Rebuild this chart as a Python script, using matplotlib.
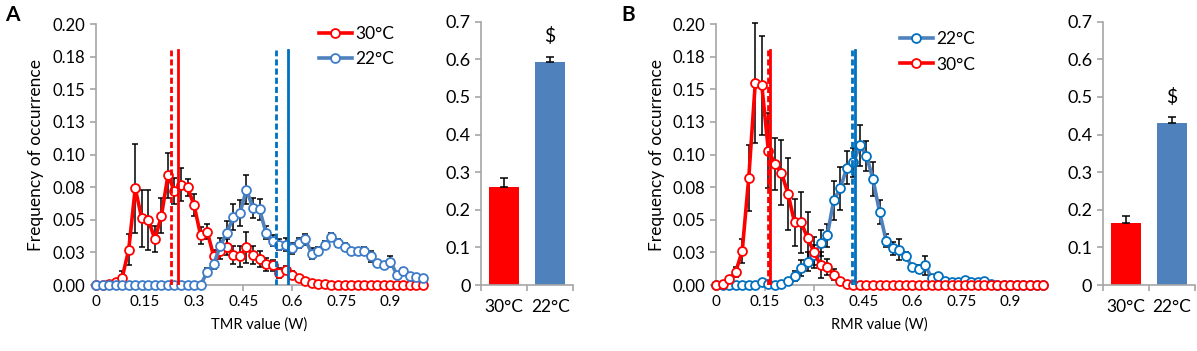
import matplotlib
matplotlib.use('Agg')
import matplotlib.pyplot as plt

plt.rcParams['font.family'] = ['Lato', 'DejaVu Sans']

# bins of the metabolic rate histograms (W)
mr_bins = [0.00, 0.02, 0.04, 0.06, 0.08, 0.10, 0.12, 0.14, 0.16, 0.18,
           0.20, 0.22, 0.24, 0.26, 0.28, 0.30, 0.32, 0.34, 0.36, 0.38,
           0.40, 0.42, 0.44, 0.46, 0.48, 0.50, 0.52, 0.54, 0.56, 0.58,
           0.60, 0.62, 0.64, 0.66, 0.68, 0.70, 0.72, 0.74, 0.76, 0.78,
           0.80, 0.82, 0.84, 0.86, 0.88, 0.90, 0.92, 0.94, 0.96, 0.98,
           1.00]

# panel A - TMR
tmr_30 = [0, 0, 0.001, 0.002, 0.0056, 0.027, 0.074, 0.051, 0.050, 0.035,
          0.053, 0.084, 0.072, 0.077, 0.075, 0.061, 0.038, 0.041, 0.022, 0.026,
          0.029, 0.023, 0.022, 0.029, 0.023, 0.020, 0.016, 0.015, 0.009, 0.0115,
          0.0077, 0.005, 0.003, 0.0015, 0.001, 0.0005, 0, 0, 0, 0,
          0, 0, 0, 0, 0, 0, 0, 0, 0, 0,
          0]
tmr_30_err = [0, 0, 0.001, 0.002, 0.005, 0.012, 0.034, 0.022, 0.023, 0.010,
              0.0135, 0.017, 0.010, 0.013, 0.0065, 0.0085, 0.0065, 0.006, 0.005, 0.006,
              0.006, 0.007, 0.008, 0.012, 0.007, 0.006, 0.005, 0.004, 0.004, 0.003,
              0.003, 0.002, 0.001, 0.001, 0, 0, 0, 0, 0, 0,
              0, 0, 0, 0, 0, 0, 0, 0, 0, 0,
              0]
tmr_22 = [0, 0, 0, 0, 0, 0, 0, 0, 0, 0,
          0, 0, 0, 0, 0, 0, 0, 0.010, 0.016, 0.030,
          0.040, 0.052, 0.055, 0.073, 0.059, 0.058, 0.040, 0.034, 0.031, 0.031,
          0.028, 0.032, 0.035, 0.024, 0.026, 0.031, 0.037, 0.032, 0.029, 0.026,
          0.026, 0.026, 0.022, 0.017, 0.015, 0.018, 0.008, 0.011, 0.007, 0.006,
          0.005]
tmr_22_err = [0, 0, 0, 0, 0, 0, 0, 0, 0, 0,
              0, 0, 0, 0, 0, 0, 0, 0.003, 0.004, 0.006,
              0.009, 0.010, 0.010, 0.011, 0.008, 0.008, 0.005, 0.004, 0.004, 0.005,
              0.004, 0.004, 0.004, 0.004, 0.003, 0.003, 0.003, 0.003, 0.003, 0.002,
              0.002, 0.003, 0.004, 0.002, 0.002, 0.004, 0.002, 0.002, 0.002, 0.001,
              0.001]
tmr_median_30, tmr_mean_30 = 0.23, 0.252
tmr_median_22, tmr_mean_22 = 0.551, 0.586
tmr_bar = [0.26, 0.592]
tmr_bar_err = [0.025, 0.015]

# panel B - RMR
rmr_22 = [0, 0, 0, 0, 0, 0, 0, 0.002, 0.001, 0,
          0.0005, 0.003, 0.007, 0.013, 0.018, 0.023, 0.032, 0.038, 0.065, 0.074,
          0.090, 0.094, 0.107, 0.099, 0.081, 0.056, 0.034, 0.028, 0.027, 0.022,
          0.014, 0.012, 0.015, 0.005, 0.007, 0.003, 0.0025, 0.0025, 0.004, 0.0025,
          0.0025, 0.003, 0.001, 0, 0, 0, 0, 0, 0, 0,
          0]
rmr_22_err = [0, 0, 0, 0, 0, 0, 0, 0.001, 0, 0,
              0, 0.002, 0.004, 0.006, 0.007, 0.008, 0.010, 0.009, 0.015, 0.0165,
              0.0125, 0.011, 0.0155, 0.0115, 0.013, 0.009, 0.005, 0.005, 0.008, 0.003,
              0.002, 0.003, 0.007, 0.002, 0.002, 0.001, 0.001, 0.001, 0.001, 0.001,
              0.001, 0.001, 0, 0, 0, 0, 0, 0, 0, 0,
              0]
rmr_30 = [0, 0.0005, 0.0045, 0.010, 0.026, 0.082, 0.155, 0.153, 0.103, 0.093,
          0.086, 0.070, 0.048, 0.048, 0.036, 0.025, 0.015, 0.014, 0.008, 0.003,
          0.001, 0, 0, 0, 0, 0, 0, 0, 0, 0,
          0, 0, 0, 0, 0, 0, 0, 0, 0, 0,
          0, 0, 0, 0, 0, 0, 0, 0, 0, 0,
          0]
rmr_30_err = [0, 0, 0.002, 0.004, 0.009, 0.025, 0.046, 0.038, 0.029, 0.020,
              0.025, 0.0275, 0.018, 0.0235, 0.020, 0.012, 0.010, 0.006, 0.004, 0.002,
              0.001, 0, 0, 0, 0, 0, 0, 0, 0, 0,
              0, 0, 0, 0, 0, 0, 0, 0, 0, 0,
              0, 0, 0, 0, 0, 0, 0, 0, 0, 0,
              0]
rmr_median_30, rmr_mean_30 = 0.158, 0.164
rmr_median_22, rmr_mean_22 = 0.415, 0.425
rmr_bar = [0.166, 0.431]
rmr_bar_err = [0.018, 0.016]

bar_labels = ['30°C', '22°C']
freq_ticks = [0, 0.025, 0.05, 0.075, 0.1, 0.125, 0.15, 0.175, 0.2]
freq_labels = ['0.00', '0.03', '0.05', '0.08', '0.10', '0.13', '0.15', '0.18', '0.20']
mr_ticks = [0, 0.15, 0.3, 0.45, 0.6, 0.75, 0.9]
mr_labels = ['0', '0.15', '0.3', '0.45', '0.6', '0.75', '0.9']
bar_ticks = [0, 0.1, 0.2, 0.3, 0.4, 0.5, 0.6, 0.7]
bar_tick_labels = ['0', '0.1', '0.2', '0.3', '0.4', '0.5', '0.6', '0.7']

RED = '#FF0000'
BLUE_LINE = '#4F81BD'
BLUE = '#0070C0'
BAR_BLUE = '#4F81BD'
AX_GREY = '#A6A6A6'


def style_axes(ax):
    for side in ['top', 'right']:
        ax.spines[side].set_visible(False)
    for side in ['left', 'bottom']:
        ax.spines[side].set_color(AX_GREY)
        ax.spines[side].set_linewidth(1.2)
    ax.tick_params(colors=AX_GREY, labelcolor='black', direction='out', length=4, width=1.2)


def draw_series(ax, y, err, line_color, marker_color, label):
    ax.errorbar(mr_bins, y, yerr=err, fmt='none', ecolor='black', elinewidth=1.1,
                capsize=2.3, capthick=1.1, zorder=2, clip_on=False)
    ax.plot(mr_bins, y, '-o', color=line_color, lw=2.6, markersize=6.4,
            markerfacecolor='white', markeredgecolor=marker_color, markeredgewidth=1.3,
            label=label, zorder=3, clip_on=False)


def hist_panel(ax, xlabel):
    ax.set_xlim(0, 1.0)
    ax.set_ylim(0, 0.2)
    ax.set_yticks(freq_ticks)
    ax.set_yticklabels(freq_labels, fontsize=12)
    ax.set_xticks(mr_ticks)
    ax.set_xticklabels(mr_labels, fontsize=11)
    ax.set_xlabel(xlabel, fontsize=10.5, labelpad=6)
    ax.set_ylabel('Frequency of occurrence', fontsize=12.5, labelpad=6)
    style_axes(ax)


def vlines(ax, median, mean, color):
    ax.plot([median, median], [0, 0.18], color=color, lw=2, ls=(0, (2.2, 1.1)), zorder=5)
    ax.plot([mean, mean], [0, 0.18], color=color, lw=2, zorder=5)


def bar_panel(ax, vals, errs):
    ax.bar([0, 1], vals, width=0.66, color=[RED, BAR_BLUE], zorder=2)
    ax.errorbar([0, 1], vals, yerr=[[0, 0], errs], fmt='none', ecolor='black',
                elinewidth=1.1, capsize=3, capthick=1.1, zorder=3)
    ax.set_xlim(-0.5, 1.5)
    ax.set_ylim(0, 0.7)
    ax.set_yticks(bar_ticks)
    ax.set_yticklabels(bar_tick_labels, fontsize=13)
    ax.set_xticks([0, 1])
    ax.set_xticklabels(bar_labels, fontsize=12.5)
    ax.set_xticks([-0.5, 0.5, 1.5], minor=True)
    style_axes(ax)
    ax.tick_params(axis='x', which='major', length=0, pad=10)
    ax.tick_params(axis='x', which='minor', length=4, width=1.2, colors=AX_GREY)
    ax.text(1, vals[1] + errs[1] + 0.03, '$', ha='center', va='bottom', fontsize=14)


fig = plt.figure(figsize=(11.97, 3.51), dpi=100)

# ---- panel A
axA = fig.add_axes([0.0802, 0.188, 0.2732, 0.7436])
draw_series(axA, tmr_30, tmr_30_err, RED, RED, '30°C')
draw_series(axA, tmr_22, tmr_22_err, BLUE_LINE, '#3D7CC9', '22°C')
vlines(axA, tmr_median_30, tmr_mean_30, RED)
vlines(axA, tmr_median_22, tmr_mean_22, BLUE)
hist_panel(axA, 'TMR value (W)')
axA.legend(loc='upper left', bbox_to_anchor=(0.66, 1.02), frameon=False, fontsize=12.5,
           handlelength=1.9, handletextpad=0.2, labelspacing=0.55, borderaxespad=0)

axA2 = fig.add_axes([0.4018, 0.188, 0.0771, 0.7501])
bar_panel(axA2, tmr_bar, tmr_bar_err)

# ---- panel B
axB = fig.add_axes([0.5982, 0.188, 0.2732, 0.7436])
draw_series(axB, rmr_22, rmr_22_err, BLUE_LINE, BLUE, '22°C')
draw_series(axB, rmr_30, rmr_30_err, RED, RED, '30°C')
vlines(axB, rmr_median_30, rmr_mean_30, RED)
vlines(axB, rmr_median_22, rmr_mean_22, BLUE)
hist_panel(axB, 'RMR value (W)')
axB.legend(loc='upper left', bbox_to_anchor=(0.54, 1.0), frameon=False, fontsize=12.5,
           handlelength=1.9, handletextpad=0.2, labelspacing=0.55, borderaxespad=0)

axB2 = fig.add_axes([0.9212, 0.188, 0.0771, 0.7501])
bar_panel(axB2, rmr_bar, rmr_bar_err)

fig.text(0.004, 0.985, 'A', fontsize=15, fontweight='bold', va='top', ha='left')
fig.text(0.519, 0.985, 'B', fontsize=15, fontweight='bold', va='top', ha='left')

fig.savefig('out.png', dpi=100)
